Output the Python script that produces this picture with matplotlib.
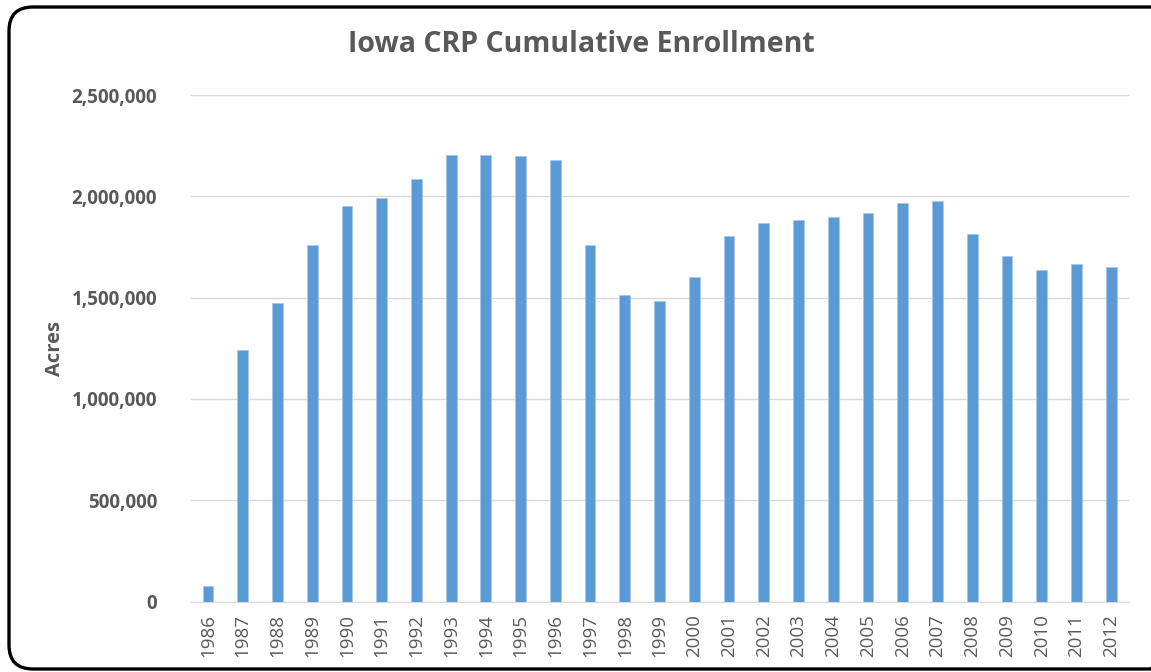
import matplotlib.pyplot as plt
import numpy as np
from matplotlib.patches import FancyBboxPatch
from matplotlib.ticker import FuncFormatter

years = [str(y) for y in range(1986, 2013)]
acres = [77000, 1240000, 1472000, 1760000, 1952000, 1991000, 2087000, 2205000, 2205000,
         2200000, 2178000, 1760000, 1513000, 1483000, 1603000, 1806000, 1868000, 1885000,
         1896000, 1919000, 1965000, 1975000, 1812000, 1705000, 1636000, 1666000, 1650000]

plt.rcParams['font.family'] = ['Open Sans', 'DejaVu Sans']
grey = '#595959'
W, H = 1151, 672

fig = plt.figure(figsize=(W/100, H/100), dpi=100)

# border drawn in pixel coords
bg = fig.add_axes([0, 0, 1, 1])
bg.set_xlim(0, W)
bg.set_ylim(H, 0)
bg.axis('off')
bg.add_patch(FancyBboxPatch((9, 7), 1165, 662, boxstyle='round,pad=0,rounding_size=24',
                            facecolor='none', edgecolor='black', linewidth=2.4))

ax = fig.add_axes([190.6/W, 1-601.5/H, (1128.5-190.6)/W, (601.5-95)/H])

x = np.arange(len(years))
ax.bar(x, acres, width=0.31, color='#5b9bd5', edgecolor='#a9c8ea', linewidth=0.6, zorder=3)

ax.set_xlim(-0.5, len(years)-0.5)
ax.set_ylim(0, 2500000)
ax.set_yticks(np.arange(0, 2500001, 500000))
ax.yaxis.set_major_formatter(FuncFormatter(lambda v, p: f"{int(v):,}"))
ax.set_xticks(x)
ax.set_xticklabels(years, rotation=90, fontsize=13.5, color=grey)
for lab in ax.get_yticklabels():
    lab.set_fontsize(13.5)
    lab.set_fontweight('bold')
    lab.set_color(grey)
ax.tick_params(axis='both', length=0)
ax.tick_params(axis='y', pad=24)
ax.tick_params(axis='x', pad=9)
ax.grid(axis='y', color='#d9d9d9', linewidth=1, zorder=0)
for s in ['top', 'right', 'left']:
    ax.spines[s].set_visible(False)
ax.spines['bottom'].set_color('#d9d9d9')

fig.text(55/W, 1-349/H, 'Acres', rotation=90, ha='center', va='center',
         fontsize=14.5, fontweight='bold', color=grey)
fig.text(581/W, 1-45/H, 'Iowa CRP Cumulative Enrollment', ha='center', va='center',
         fontsize=20.5, fontweight='bold', color=grey)

fig.savefig('out.png', dpi=100)
